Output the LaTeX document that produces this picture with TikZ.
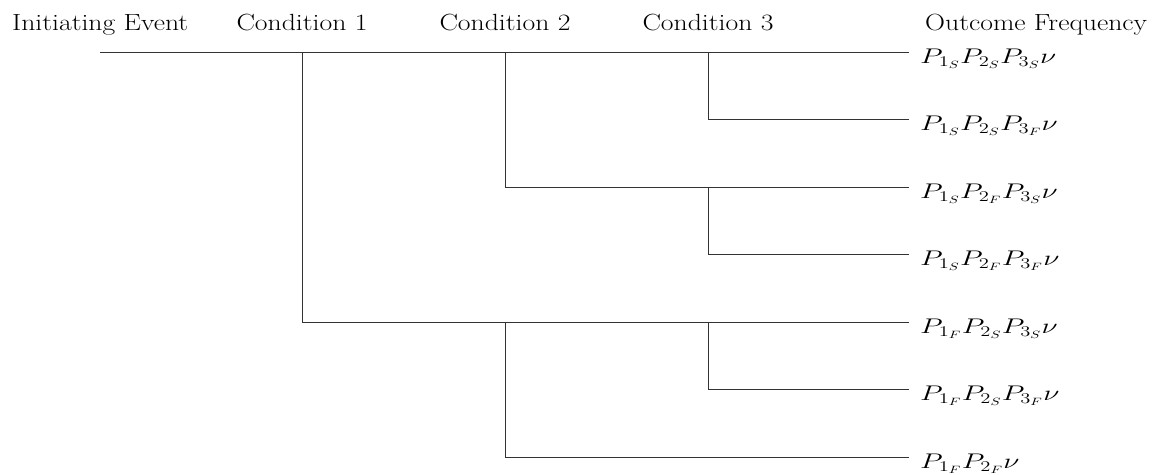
\RequirePackage{fix-cm}
\documentclass[tikz,border=0pt]{standalone}
\newlength{\myTxtLen}
\newlength{\myMathLen}
\newcommand{\hfnt}{\fontsize{23.4}{28}\selectfont}
\newcommand{\mfnt}{\fontsize{21.2}{25}\selectfont}
\begin{document}
\settowidth{\myTxtLen}{\hfnt Initiating Event}
\settowidth{\myMathLen}{\mfnt $P_{1_S}P_{2_S}P_{3_S}\nu$}
\pgfmathsetmacro{\tfac}{176/\myTxtLen}
\pgfmathsetmacro{\mfac}{136/\myMathLen}
\newcommand{\htxt}[1]{\scalebox{\tfac}[1]{\hfnt #1}}
\newcommand{\mtxt}[1]{\scalebox{\mfac}[1]{\mfnt $#1$}}
\begin{tikzpicture}[x=1pt,y=-1pt,
  branch/.style={line width=1pt, draw=black!80},
  head/.style={anchor=base, inner sep=0pt},
  outc/.style={anchor=base west, inner sep=0pt}]
\useasboundingbox (0,0) rectangle (1154,474);
% headers
\node[head, anchor=base west] (hIE) at (12,30) {\htxt{Initiating Event}};
\node[head] (hC1) at (302,30) {\htxt{Condition 1}};
\node[head] (hC2) at (505,30) {\htxt{Condition 2}};
\node[head] (hC3) at (708,30) {\htxt{Condition 3}};
\node[head, anchor=base west] (hOF) at (925,30) {\htxt{Outcome Frequency}};
% coordinates
\coordinate (start) at (100,52);
\coordinate (a1) at (302,52);
\coordinate (a2) at (302,322);
\coordinate (b1) at (505,52);
\coordinate (b2) at (505,187);
\coordinate (b3) at (505,322);
\coordinate (b4) at (505,457);
\coordinate (c1) at (708,52);
\coordinate (c2) at (708,119.5);
\coordinate (c3) at (708,187);
\coordinate (c4) at (708,254.5);
\coordinate (c5) at (708,322);
\coordinate (c6) at (708,389.5);
\coordinate (e1) at (909,52);
\coordinate (e2) at (909,119.5);
\coordinate (e3) at (909,187);
\coordinate (e4) at (909,254.5);
\coordinate (e5) at (909,322);
\coordinate (e6) at (909,389.5);
\coordinate (e7) at (909,457);
% outcome labels
\node[outc] (o1) at (920,63) {\mtxt{P_{1_S}P_{2_S}P_{3_S}\nu}};
\node[outc] (o2) at (920,130.5) {\mtxt{P_{1_S}P_{2_S}P_{3_F}\nu}};
\node[outc] (o3) at (920,198) {\mtxt{P_{1_S}P_{2_F}P_{3_S}\nu}};
\node[outc] (o4) at (920,265.5) {\mtxt{P_{1_S}P_{2_F}P_{3_F}\nu}};
\node[outc] (o5) at (920,333) {\mtxt{P_{1_F}P_{2_S}P_{3_S}\nu}};
\node[outc] (o6) at (920,400.5) {\mtxt{P_{1_F}P_{2_S}P_{3_F}\nu}};
\node[outc] (o7) at (920,468) {\mtxt{P_{1_F}P_{2_F}\nu}};
% tree
\draw[branch] (start) -- (e1);
\draw[branch] (a1) -- (a2) -- (e5);
\draw[branch] (b1) -- (b2) -- (e3);
\draw[branch] (b3) -- (b4) -- (e7);
\draw[branch] (c1) -- (c2) -- (e2);
\draw[branch] (c3) -- (c4) -- (e4);
\draw[branch] (c5) -- (c6) -- (e6);
\end{tikzpicture}
\end{document}
